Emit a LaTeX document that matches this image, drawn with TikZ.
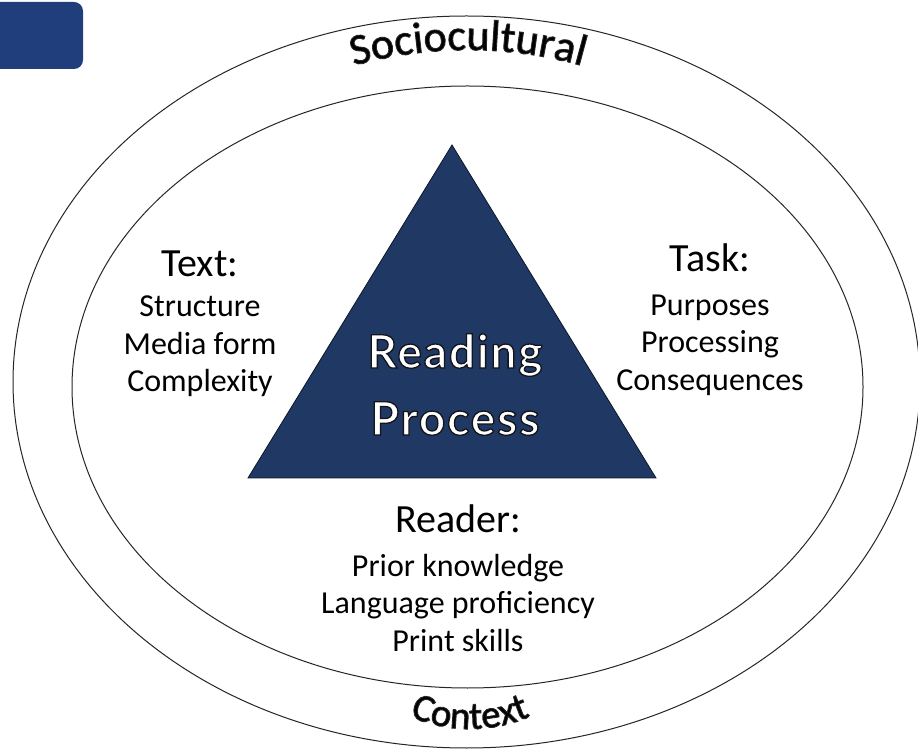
\documentclass[tikz,border=0pt]{standalone}
\usepackage{fontspec}
\setmainfont{Carlito}
\newfontfamily\hubfont[LetterSpace=4]{Lato}
\usetikzlibrary{decorations.text}

\definecolor{navy}{HTML}{1F3864}
\definecolor{tabblue}{HTML}{213E7C}
\definecolor{ringline}{HTML}{262626}

% white letters with a thin dark edge (fill + stroke text rendering)
\newcommand{\edged}[1]{\special{pdf:code q 2 Tr 1.3 w 0.08 0.08 0.1 RG}#1\special{pdf:code Q}}
% slightly heavier black letters for the ring labels
\newcommand{\heavyink}{\special{pdf:code 2 Tr 0.9 w 0.15 0.15 0.15 RG}}

\begin{document}
\begin{tikzpicture}[x=1pt,y=1pt,
  head/.style={anchor=base, inner sep=0pt, font=\fontsize{40}{48}\selectfont},
  item/.style={anchor=base, inner sep=0pt, font=\fontsize{32}{38}\selectfont},
  hub/.style={anchor=base, inner sep=0pt, text=white, font=\hubfont\bfseries\fontsize{46}{54}\selectfont},
  ring/.style={draw=ringline, line width=1pt},
]
\useasboundingbox (0,0) rectangle (918,750);
\clip (0,0) rectangle (918,750);
\fill[white] (0,0) rectangle (918,750);

% corner tab
\fill[tabblue, rounded corners=9pt] (-12,681) rectangle (83,748);

% context rings
\draw[ring] (466.5,368) ellipse [x radius=453.5, y radius=366];
\draw[ring] (467.5,363) ellipse [x radius=395.5, y radius=301];

% central triangle
\filldraw[fill=navy, draw=black!60!navy, line width=0.8pt]
  (452,605) -- (656,272) -- (248,272) -- cycle;

% curved ring labels
\begin{scope}
  \path[decorate, decoration={text along path, text align=center, text color=black,
      text={|\heavyink\fontsize{44}{50}\selectfont|Sociocultural}}]
    ([shift={(120:420)}]468,280) arc[start angle=120, end angle=60, radius=420];
\end{scope}
\begin{scope}
  \path[decorate, decoration={text along path, text align=center, text color=black,
      text={|\heavyink\fontsize{39}{46}\selectfont|Context}}]
    ([shift={(230:150)}]470,171) arc[start angle=230, end angle=310, radius=150];
\end{scope}

% Text
\node[head] (text)  at (200,473) {Text:};
\node[item] (text1) at (200,433) {Structure};
\node[item] (text2) at (200,395) {Media form};
\node[item] (text3) at (200,358) {Complexity};

% Task
\node[head] (task)  at (710,478) {Task:};
\node[item] (task1) at (710,434) {Purposes};
\node[item] (task2) at (710,397) {Processing};
\node[item] (task3) at (710,359) {Consequences};

% Reader
\node[head] (reader)  at (458,217) {Reader:};
\node[item] (reader1) at (458,174) {Prior knowledge};
\node[item] (reader2) at (458,136.5) {Language proficiency};
\node[item] (reader3) at (458,99) {Print skills};

% Reading Process
\node[hub] (reading) at (455,382) {\edged{Reading}};
\node[hub] (process) at (455,315) {\edged{Process}};
\end{tikzpicture}
\end{document}
